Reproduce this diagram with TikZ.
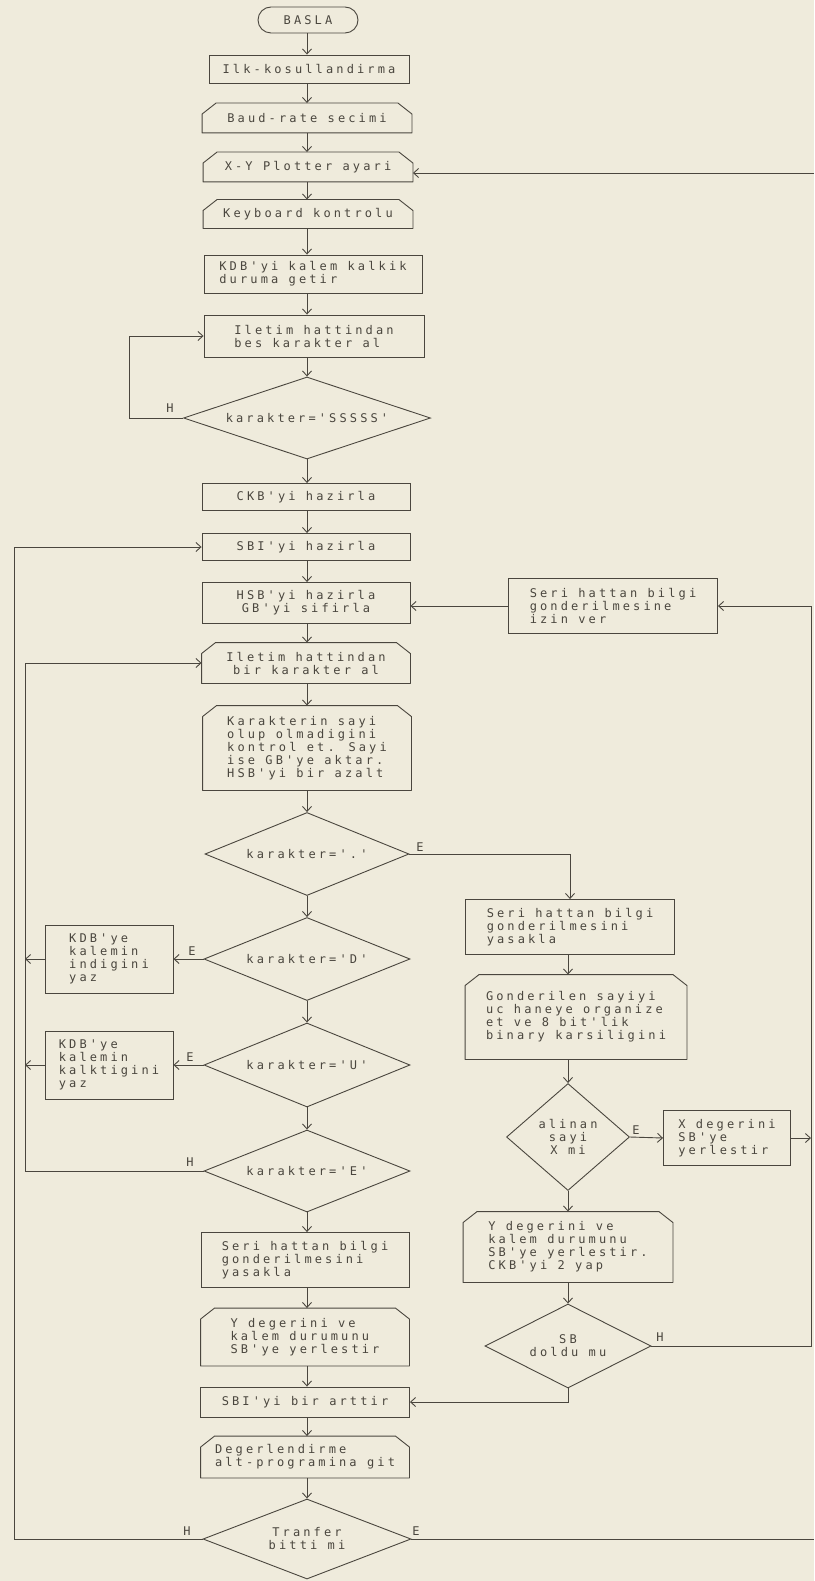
\documentclass[tikz,border=0pt]{standalone}
\usepackage{fontspec}
\usetikzlibrary{shapes.geometric, shapes.misc, arrows.meta, calc}
\newfontfamily\plotfont[LetterSpace=26]{DejaVu Sans Mono}
\newcommand{\plotyazi}{\plotfont\fontsize{12}{13}\selectfont}
\definecolor{kagit}{HTML}{EFEBDC}
\definecolor{murekkep}{HTML}{4A463E}

\tikzset{
  cizgi/.style={draw=murekkep, line width=0.9pt},
  ok/.style={cizgi, -{Straight Barb[length=5pt, width=9pt]}},
  islem/.style={cizgi, rectangle, inner sep=0pt, align=left,
                font=\plotyazi, text=murekkep},
  ekran/.style={islem, draw=none,
                append after command={\pgfextra{
                  \draw[cizgi, line join=round] (\tikzlastnode.south west)
                    -- ([yshift=-11pt]\tikzlastnode.north west)
                    -- ([xshift=14pt]\tikzlastnode.north west)
                    -- ([xshift=-14pt]\tikzlastnode.north east)
                    -- ([yshift=-11pt]\tikzlastnode.north east)
                    -- (\tikzlastnode.south east) -- cycle;}}},
  karar/.style={cizgi, diamond, aspect=2.5, inner sep=0pt, align=center,
                font=\plotyazi, text=murekkep},
  uc/.style={cizgi, rounded rectangle, inner sep=0pt, font=\plotyazi, text=murekkep},
  etiket/.style={font=\plotyazi, text=murekkep, inner sep=0pt}
}

\begin{document}
\begin{tikzpicture}[x=1pt, y=-1pt]
  \useasboundingbox (0,0) rectangle (814,1581);
  \fill[kagit] (0,0) rectangle (814,1581);

  \coordinate (kolon) at (307,0);
  \coordinate (sagkolon) at (568,0);
  \coordinate (sagkenar) at (811,0);
  \coordinate (dis) at (14,0);
  \coordinate (ic) at (25,0);
  \coordinate (ustgiris) at (814,173);
  \coordinate (altcikis) at (814,1539);

  \node[uc, minimum width=100pt, minimum height=26pt] (basla) at (308,20) {BASLA};
  \node[islem, minimum width=200pt, minimum height=28pt] (ilk) at (309,69) {Ilk-kosullandirma};
  \node[ekran, minimum width=209pt, minimum height=29pt] (baud) at (307,118) {Baud-rate secimi};
  \node[ekran, minimum width=209pt, minimum height=29pt] (plotter) at (308,167) {X-Y Plotter ayari};
  \node[ekran, minimum width=209pt, minimum height=28pt] (klavye) at (308,214) {Keyboard kontrolu};
  \node[islem, minimum width=218pt, minimum height=38pt] (kdb) at (313,274) {KDB'yi kalem kalkik\\duruma getir};
  \node[islem, minimum width=220pt, minimum height=42pt] (besk) at (314,336) {Iletim hattindan\\bes karakter al};
  \node[karar, minimum width=247pt, minimum height=82pt] (sssss) at (307,418) {karakter='SSSSS'};
  \node[islem, minimum width=208pt, minimum height=27pt] (ckb) at (306,497) {CKB'yi hazirla};
  \node[islem, minimum width=208pt, minimum height=27pt] (sbi) at (306,547) {SBI'yi hazirla};
  \node[islem, align=center, minimum width=208pt, minimum height=41pt] (hsb) at (306,603) {HSB'yi hazirla\\GB'yi sifirla};
  \node[ekran, align=center, minimum width=208pt, minimum height=40pt] (birk) at (306,663) {Iletim hattindan\\bir karakter al};
  \node[ekran, minimum width=208pt, minimum height=84pt] (sayi) at (307,748) {Karakterin sayi\\olup olmadigini\\kontrol et. Sayi\\ise GB'ye aktar.\\HSB'yi bir azalt};
  \node[karar, minimum width=204pt, minimum height=83pt] (nokta) at (307,854) {karakter='.'};
  \node[karar, minimum width=206pt, minimum height=83pt] (dkar) at (307,959) {karakter='D'};
  \node[karar, minimum width=206pt, minimum height=84pt] (ukar) at (307,1065) {karakter='U'};
  \node[karar, minimum width=206pt, minimum height=82pt] (ekar) at (307,1171) {karakter='E'};
  \node[islem, minimum width=208pt, minimum height=55pt] (yasak1) at (305,1260) {Seri hattan bilgi\\gonderilmesini\\yasakla};
  \node[ekran, minimum width=208pt, minimum height=57pt] (ydeg1) at (305,1337) {Y degerini ve\\kalem durumunu\\SB'ye yerlestir};
  \node[islem, minimum width=209pt, minimum height=30pt] (arttir) at (305,1402) {SBI'yi bir arttir};
  \node[ekran, minimum width=208pt, minimum height=41pt] (degr) at (305,1457) {Degerlendirme\\alt-programina git};
  \node[karar, minimum width=208pt, minimum height=80pt] (tranfer) at (307,1539) {Tranfer\\bitti mi};

  \node[islem, minimum width=128pt, minimum height=68pt] (indi) at (109,959) {KDB'ye\\kalemin\\indigini\\yaz};
  \node[islem, minimum width=128pt, minimum height=68pt] (kalk) at (109,1065) {KDB'ye\\kalemin\\kalktigini\\yaz};

  \node[islem, minimum width=209pt, minimum height=55pt] (izin) at (613,606) {Seri hattan bilgi\\gonderilmesine\\izin ver};
  \node[islem, minimum width=209pt, minimum height=55pt] (yasak2) at (570,927) {Seri hattan bilgi\\gonderilmesini\\yasakla};
  \node[ekran, minimum width=221pt, minimum height=84pt] (gonder) at (576,1017) {Gonderilen sayiyi\\uc haneye organize\\et ve 8 bit'lik\\binary karsiligini};
  \node[karar, aspect=1, minimum width=123pt, minimum height=107pt] (xmi) at (568,1137) {alinan\\sayi\\X mi};
  \node[islem, minimum width=127pt, minimum height=55pt] (xdeg) at (727,1138) {X degerini\\SB'ye\\yerlestir};
  \node[ekran, minimum width=209pt, minimum height=70pt] (ydeg2) at (568,1247) {Y degerini ve\\kalem durumunu\\SB'ye yerlestir.\\CKB'yi 2 yap};
  \node[karar, minimum width=166pt, minimum height=84pt] (dolu) at (568,1346) {SB\\doldu mu};

  \node[etiket] (hs) at (170,408) {H};
  \node[etiket] (en) at (420,847) {E};
  \node[etiket] (ed) at (192,951) {E};
  \node[etiket] (eu) at (190,1057) {E};
  \node[etiket] (he) at (190,1162) {H};
  \node[etiket] (ex) at (636,1130) {E};
  \node[etiket] (hd) at (660,1337) {H};
  \node[etiket] (ht) at (187,1531) {H};
  \node[etiket] (et) at (416,1531) {E};

  \foreach \a/\b in {basla/ilk, ilk/baud, baud/plotter, plotter/klavye, klavye/kdb,
      kdb/besk, besk/sssss, sssss/ckb, ckb/sbi, sbi/hsb, hsb/birk, birk/sayi,
      sayi/nokta, nokta/dkar, dkar/ukar, ukar/ekar, ekar/yasak1, yasak1/ydeg1,
      ydeg1/arttir, arttir/degr, degr/tranfer}
    \draw[ok] (\a.south -| kolon) -- (\b.north -| kolon);
  \foreach \a/\b in {yasak2/gonder, gonder/xmi, xmi/ydeg2, ydeg2/dolu}
    \draw[ok] (\a.south -| sagkolon) -- (\b.north -| sagkolon);

  \draw[ok] (sssss.west) -- ++(-54,0) |- (besk.west);
  \draw[ok] (tranfer.west) -- (tranfer.west -| dis) |- (sbi.west);
  \draw[ok] (ekar.west) -- (ekar.west -| ic) |- (birk.west);
  \draw[ok] (dkar.west) -- (indi.east);
  \draw[ok] (indi.west) -- (indi.west -| ic);
  \draw[ok] (ukar.west) -- (kalk.east);
  \draw[ok] (kalk.west) -- (kalk.west -| ic);
  \draw[ok] (nokta.east) -| (yasak2.north);
  \draw[ok] (xmi.east) -- (xdeg.west);
  \draw[ok] (xdeg.east) -- (xdeg.east -| sagkenar);
  \draw[ok] (dolu.east) -- (dolu.east -| sagkenar) |- (izin.east);
  \draw[ok] (izin.west) -- (izin.west -| hsb.east);
  \draw[ok] (dolu.south) |- (arttir.east);
  \draw[ok] (ustgiris) -- (ustgiris -| plotter.east);
  \draw[cizgi] (tranfer.east) -- (altcikis);
\end{tikzpicture}
\end{document}
